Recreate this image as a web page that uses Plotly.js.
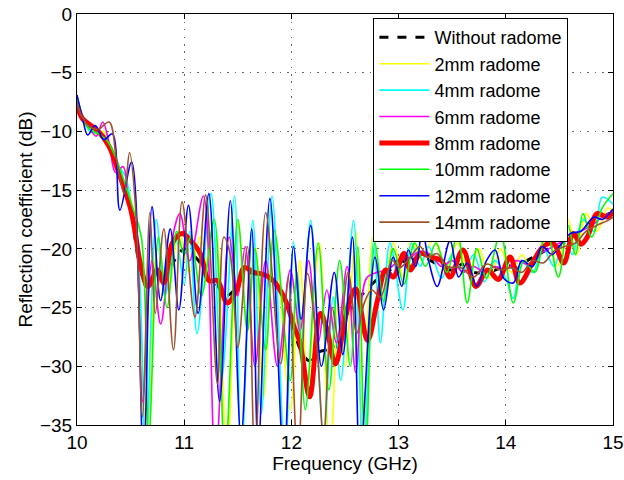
<!DOCTYPE html>
<html><head><meta charset="utf-8">
<script src="https://cdn.plot.ly/plotly-3.0.1.min.js"></script>
<style>body{margin:0;background:#fff}#chart{width:624px;height:480px}</style>
</head><body><div id="chart"></div>
<script>
// ---- data (frequency in GHz, reflection coefficient in dB) ----
var seriesNames = ["Without radome","2mm radome","4mm radome","6mm radome","8mm radome","10mm radome","12mm radome","14mm radome"];

var fRef = [10.00,10.05,10.10,10.15,10.20,10.25,10.30,10.35,10.40,10.45,10.50,10.55,10.60,10.65,10.72,10.78,10.85,10.92,11.00,11.08,11.15,11.22,11.30,11.38,11.46,11.55,11.65,11.75,11.83,11.92,12.00,12.08,12.16,12.25,12.33,12.40,12.50,12.60,12.70,12.80,12.90,13.00,13.10,13.20,13.30,13.40,13.50,13.60,13.70,13.80,13.90,14.00,14.10,14.20,14.30,14.40,14.50,14.60,14.70,14.80,14.90,15.00];
var yRef = [-7.6,-8.8,-9.4,-9.7,-10.0,-10.4,-11.2,-12.3,-13.6,-15.0,-16.6,-19.6,-22.3,-23.2,-22.6,-22.2,-22.0,-20.8,-20.0,-20.5,-21.2,-22.6,-23.0,-24.0,-23.6,-22.0,-22.1,-22.3,-22.7,-24.0,-26.0,-28.5,-29.5,-28.8,-28.6,-28.5,-26.0,-24.5,-23.5,-22.6,-22.0,-21.0,-21.2,-20.5,-21.0,-21.5,-21.8,-21.3,-22.0,-22.0,-21.8,-21.4,-21.6,-21.0,-20.5,-20.0,-19.8,-19.0,-18.5,-17.8,-17.3,-16.8];

var f2 = [10.00,10.05,10.10,10.18,10.25,10.32,10.40,10.48,10.55,10.66,10.75,10.85,10.95,11.05,11.15,11.24,11.30,11.40,11.50,11.59,11.66,11.74,11.84,11.99,12.08,12.15,12.26,12.36,12.44,12.50,12.60,12.67,12.76,12.86,12.95,13.05,13.12,13.22,13.32,13.45,13.55,13.65,13.75,13.85,13.95,14.05,14.15,14.25,14.38,14.48,14.58,14.66,14.75,14.85,14.95,15.00];
var y2 = [-7.8,-9.0,-9.8,-10.3,-10.0,-11.5,-13.5,-15.0,-19.0,-38.0,-20.0,-23.5,-18.5,-22.0,-19.0,-23.0,-19.0,-38.0,-17.8,-26.6,-19.5,-32.7,-18.5,-33.7,-21.0,-31.5,-19.5,-38.0,-24.6,-30.0,-18.5,-38.0,-19.0,-24.0,-19.5,-22.5,-19.2,-21.0,-19.2,-21.5,-19.5,-22.0,-20.0,-22.5,-20.0,-22.0,-20.5,-22.0,-18.5,-21.5,-17.5,-20.5,-17.0,-18.5,-16.5,-16.8];

var f4 = [10.00,10.05,10.12,10.20,10.27,10.35,10.45,10.50,10.58,10.64,10.74,10.82,10.92,11.00,11.05,11.12,11.25,11.35,11.47,11.53,11.64,11.72,11.82,11.94,12.02,12.09,12.18,12.30,12.39,12.46,12.58,12.67,12.77,12.83,12.92,13.04,13.12,13.20,13.28,13.40,13.50,13.60,13.70,13.80,13.90,14.00,14.07,14.15,14.25,14.35,14.45,14.55,14.62,14.72,14.82,14.90,15.00];
var y4 = [-7.0,-8.6,-10.0,-10.2,-10.8,-12.5,-13.8,-16.0,-22.0,-38.0,-17.5,-24.0,-19.0,-23.0,-18.5,-27.2,-15.3,-31.0,-15.5,-38.0,-17.6,-34.0,-15.5,-38.0,-19.4,-28.0,-17.6,-36.0,-24.1,-31.2,-17.6,-38.0,-19.0,-28.0,-19.5,-25.2,-19.5,-21.5,-19.8,-22.5,-20.5,-22.0,-20.5,-22.8,-21.0,-22.5,-24.2,-21.0,-22.0,-20.0,-21.5,-18.5,-20.5,-17.5,-18.5,-15.6,-16.2];

var f6 = [10.00,10.05,10.12,10.18,10.24,10.30,10.36,10.43,10.48,10.55,10.61,10.70,10.78,10.87,10.96,11.05,11.18,11.29,11.42,11.50,11.57,11.66,11.76,11.87,11.99,12.08,12.16,12.25,12.33,12.42,12.52,12.60,12.70,12.80,12.90,13.00,13.10,13.20,13.30,13.40,13.50,13.60,13.70,13.80,13.90,14.00,14.10,14.20,14.30,14.40,14.50,14.60,14.70,14.80,14.90,15.00];
var y6 = [-7.8,-9.0,-9.8,-10.4,-9.2,-11.0,-13.5,-13.0,-16.0,-19.0,-33.0,-21.0,-26.4,-20.0,-17.0,-21.0,-15.5,-38.0,-19.0,-24.0,-19.8,-30.0,-21.0,-30.0,-21.8,-27.0,-21.0,-28.0,-23.5,-28.0,-21.5,-30.5,-22.5,-22.0,-21.8,-21.0,-20.8,-20.2,-20.5,-21.5,-21.0,-22.0,-21.5,-22.0,-21.5,-21.8,-21.0,-21.3,-20.5,-20.0,-19.5,-19.0,-18.5,-18.0,-17.3,-16.8];

var f8 = [10.00,10.05,10.10,10.20,10.30,10.40,10.50,10.55,10.59,10.66,10.75,10.81,10.89,10.98,11.06,11.15,11.23,11.31,11.40,11.49,11.56,11.65,11.75,11.83,11.95,12.02,12.08,12.17,12.27,12.33,12.41,12.52,12.60,12.71,12.80,12.88,12.95,13.05,13.11,13.20,13.30,13.40,13.48,13.60,13.72,13.83,13.93,14.04,14.13,14.26,14.35,14.44,14.54,14.63,14.70,14.76,14.85,14.95,15.00];
var y8 = [-7.8,-8.9,-9.3,-10.0,-11.3,-13.8,-16.6,-19.0,-21.2,-23.2,-21.8,-22.9,-19.5,-18.7,-19.3,-20.4,-22.7,-22.7,-24.6,-23.5,-21.6,-22.0,-22.2,-22.7,-24.5,-26.5,-28.0,-32.6,-25.5,-26.8,-29.8,-25.2,-23.4,-27.8,-24.5,-21.8,-22.4,-20.4,-21.8,-20.4,-20.7,-21.0,-22.4,-20.1,-23.2,-21.8,-22.6,-20.7,-22.9,-21.0,-19.8,-19.5,-21.2,-18.7,-19.6,-19.0,-17.0,-17.3,-16.8];

var f10 = [10.00,10.05,10.12,10.20,10.28,10.36,10.45,10.52,10.60,10.67,10.76,10.84,10.93,11.00,11.06,11.16,11.28,11.38,11.50,11.59,11.66,11.76,11.84,11.99,12.05,12.13,12.25,12.35,12.45,12.55,12.62,12.69,12.78,12.86,12.95,13.05,13.15,13.25,13.35,13.45,13.55,13.64,13.73,13.82,13.95,14.07,14.17,14.27,14.38,14.49,14.58,14.65,14.72,14.80,14.90,15.00];
var y10 = [-7.4,-8.8,-9.8,-10.2,-10.8,-12.2,-14.5,-16.5,-19.0,-36.0,-19.0,-25.0,-18.5,-20.5,-19.0,-24.0,-17.5,-38.0,-17.5,-27.0,-20.0,-28.6,-18.4,-31.2,-22.0,-33.7,-19.5,-32.0,-21.0,-30.0,-19.8,-38.0,-19.5,-24.5,-20.0,-23.0,-19.5,-21.5,-19.5,-22.0,-18.7,-24.6,-20.0,-22.5,-18.7,-24.6,-21.0,-22.0,-18.4,-22.4,-18.0,-20.5,-17.0,-19.0,-16.5,-15.3];

var f12 = [10.00,10.05,10.10,10.17,10.25,10.33,10.40,10.51,10.62,10.70,10.78,10.87,10.95,11.04,11.13,11.23,11.33,11.43,11.53,11.63,11.69,11.80,11.93,12.02,12.09,12.18,12.28,12.40,12.48,12.57,12.64,12.78,12.86,12.95,13.03,13.09,13.16,13.22,13.28,13.36,13.48,13.56,13.64,13.73,13.82,13.90,13.98,14.07,14.15,14.25,14.34,14.43,14.50,14.60,14.70,14.82,14.90,15.00];
var y12 = [-6.9,-8.8,-10.3,-9.5,-10.7,-10.2,-16.7,-12.6,-38.0,-16.4,-24.4,-18.3,-25.2,-16.3,-25.5,-15.3,-33.0,-15.9,-36.0,-18.3,-37.0,-15.7,-38.0,-19.8,-26.0,-18.0,-30.0,-22.0,-29.0,-19.0,-38.0,-20.7,-25.2,-20.7,-23.2,-20.1,-21.5,-18.4,-21.0,-23.2,-19.3,-22.4,-21.2,-23.2,-21.0,-20.1,-22.5,-22.9,-21.0,-21.5,-19.8,-20.5,-19.8,-18.7,-18.5,-17.3,-17.5,-16.6];

var f14 = [10.00,10.05,10.12,10.20,10.30,10.37,10.44,10.49,10.55,10.61,10.68,10.73,10.81,10.90,10.98,11.10,11.20,11.31,11.37,11.43,11.50,11.59,11.66,11.76,11.90,11.97,12.06,12.15,12.24,12.30,12.38,12.44,12.53,12.61,12.68,12.75,12.83,12.94,13.01,13.10,13.20,13.27,13.36,13.45,13.58,13.70,13.82,13.95,14.05,14.15,14.25,14.35,14.45,14.55,14.65,14.75,14.85,14.95,15.00];
var y14 = [-7.5,-8.8,-9.6,-9.8,-9.2,-12.5,-15.3,-11.8,-17.0,-34.3,-16.9,-25.5,-18.3,-28.6,-16.0,-25.8,-15.4,-31.5,-19.0,-20.5,-28.4,-19.8,-38.0,-16.9,-29.8,-22.4,-38.0,-22.1,-28.6,-36.0,-25.0,-27.8,-22.0,-27.2,-24.6,-23.5,-24.1,-21.0,-21.6,-20.8,-19.8,-20.7,-20.4,-21.5,-21.6,-22.4,-21.3,-21.8,-21.6,-22.0,-21.0,-21.2,-20.2,-19.8,-19.5,-18.5,-18.0,-17.6,-17.3];

var xTickVals = [10,11,12,13,14,15];
var yTickVals = [0,-5,-10,-15,-20,-25,-30,-35];

// ---- build traces ----
var xs = [fRef,f2,f4,f6,f8,f10,f12,f14];
var ys = [yRef,y2,y4,y6,y8,y10,y12,y14];
var colors = ["#000000","#ffff00","#00ffff","#ff00ff","#ff0000","#00ff00","#0000ff","#a0522d"];
var widths = [3,1.6,1.6,1.6,5,1.6,1.6,1.6];
var dashes = ["dash","solid","solid","solid","solid","solid","solid","solid"];

var traces = seriesNames.map(function(n,i){
  return {x: xs[i], y: ys[i], name: n, type:"scatter", mode:"lines",
    legendgroup: "g"+i,
    line:{color: colors[i], width: widths[i], dash: dashes[i], shape:"spline", smoothing:1}};
});

var axisCommon = {showline:true, mirror:"ticks", linecolor:"#000", linewidth:1,
  ticks:"inside", ticklen:5, tickcolor:"#000", showgrid:true, gridcolor:"#666",
  griddash:"1.5px,6px", gridwidth:1, zeroline:false, tickfont:{size:19,color:"#000"}};

var layout = {
  width:624, height:480,
  margin:{l:77, r:11, t:14, b:55},
  paper_bgcolor:"#fff", plot_bgcolor:"#fff",
  font:{family:"Liberation Sans, Arial, sans-serif", color:"#000"},
  xaxis: Object.assign({}, axisCommon, {range:[10,15], tickvals:xTickVals,
    title:{text:"Frequency (GHz)", font:{size:19}, standoff:4}}),
  yaxis: Object.assign({}, axisCommon, {range:[-35,0], tickvals:yTickVals,
    title:{text:"Reflection coefficient (dB)", font:{size:19}, standoff:2}}),
  showlegend:true,
  legend:{x:0.553, y:0.99, xanchor:"left", yanchor:"top", bgcolor:"#fff",
    bordercolor:"#000", borderwidth:1, font:{size:18}, itemwidth:50,
    tracegroupgap:0, traceorder:"normal"}
};

Plotly.newPlot("chart", traces, layout, {staticPlot:true, displayModeBar:false});
</script>
</body></html>
